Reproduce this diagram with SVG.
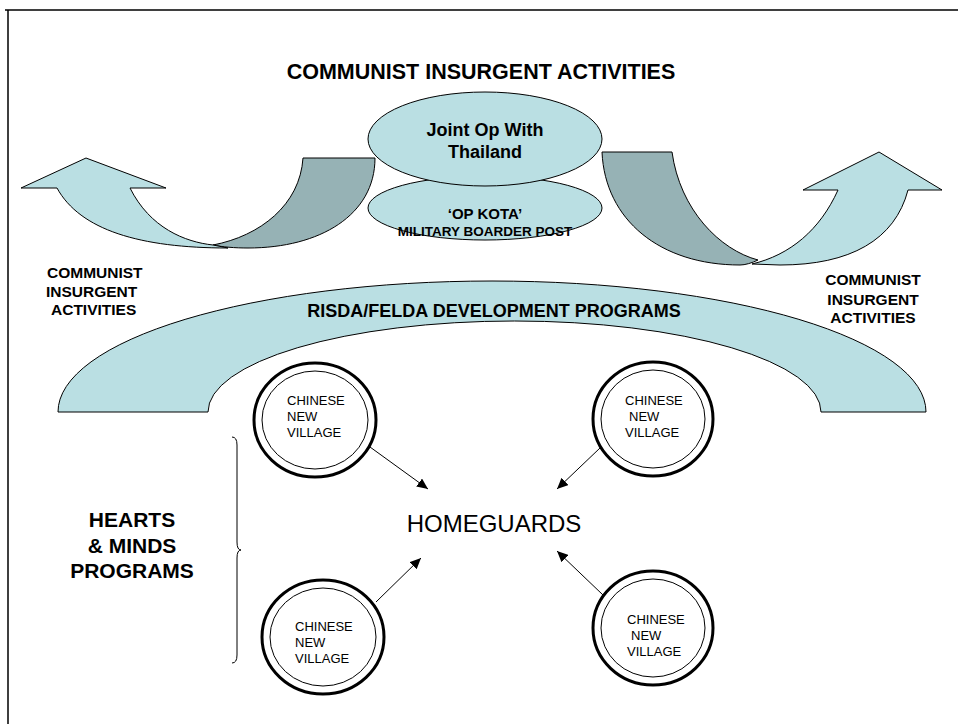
<svg xmlns="http://www.w3.org/2000/svg" width="958" height="724" viewBox="0 0 958 724">
<defs>
<style>
.lt{fill:#BADFE3;stroke:#000;stroke-width:1}
.dk{fill:#96B2B5;stroke:#000;stroke-width:1}
.b{font-family:"Liberation Sans",Arial,sans-serif;font-weight:bold;fill:#000}
.r{font-family:"Liberation Sans",Arial,sans-serif;fill:#000}
.ring{fill:#fff;stroke:#000;stroke-width:3}
.inner{fill:none;stroke:#000;stroke-width:1}
.conn{stroke:#000;stroke-width:1;fill:none;marker-end:url(#ah)}
</style>
<marker id="ah" markerUnits="userSpaceOnUse" markerWidth="12" markerHeight="10" refX="11" refY="5" orient="auto">
<path d="M0,0 L11,5 L0,10 Z" fill="#000"/>
</marker>
</defs>
<rect width="958" height="724" fill="#fff"/>
<path d="M5,10 H958 M8,10 V724" stroke="#000" stroke-width="1.5" fill="none"/>

<g id="title"><text class="b" x="481" y="79" font-size="21.5" text-anchor="middle">COMMUNIST INSURGENT ACTIVITIES</text></g>

<g id="left-arrow">
<path class="dk" d="M303,158 L375,158 C375,215 320,248 248,248 C235,248 222,247 213,245 C260,236 300,205 303,158 Z"/>
<path class="lt" d="M86,158 L166,188 L130,188 C150,228 185,242 213,245 L228,248 C140,248 80,230 57,188 L21,188 Z"/>
</g>
<g id="right-arrow">
<path class="dk" d="M602,152 L672,152 C680,210 720,250 758,260 C752,263 745,265 740,265 C660,265 605,220 602,152 Z"/>
<path class="lt" d="M879,152 L942,190 L908,190 C895,240 850,265 780,265 L752,264 C790,255 820,230 838,190 L803,190 Z"/>
</g>

<g id="joint-op">
<ellipse class="lt" cx="485" cy="208" rx="117" ry="32"/>
<text class="b" x="485" y="219" font-size="15" text-anchor="middle">‘OP KOTA’</text>
<text class="b" x="485" y="236" font-size="13.5" text-anchor="middle">MILITARY BOARDER POST</text>
</g>
<g id="joint-thailand">
<ellipse class="lt" cx="485" cy="139" rx="117" ry="47"/>
<text class="b" x="485" y="136" font-size="18" text-anchor="middle">Joint Op With</text>
<text class="b" x="485" y="158" font-size="18" text-anchor="middle">Thailand</text>
</g>

<g id="left-label">
<text class="b" font-size="15.5"><tspan x="47" y="278">COMMUNIST</tspan><tspan x="46" y="297">INSURGENT</tspan><tspan x="51" y="315">ACTIVITIES</tspan></text>
</g>
<g id="right-label">
<text class="b" font-size="15.5" text-anchor="middle"><tspan x="873" y="285">COMMUNIST</tspan><tspan x="873" y="305">INSURGENT</tspan><tspan x="873" y="323">ACTIVITIES</tspan></text>
</g>

<g id="risda">
<path class="lt" d="M58,412 A434,131 0 0 1 926,412 L821,412 A306.5,91 0 0 0 208,412 Z"/>
<text class="b" x="494" y="317" font-size="18" text-anchor="middle">RISDA/FELDA DEVELOPMENT PROGRAMS</text>
</g>

<g id="village-tl">
<ellipse class="ring" cx="315" cy="420" rx="61" ry="57"/>
<ellipse class="inner" cx="315" cy="420" rx="53" ry="49"/>
<text class="r" font-size="13"><tspan x="287" y="405">CHINESE</tspan><tspan x="287" y="421">NEW</tspan><tspan x="287" y="437">VILLAGE</tspan></text>
</g>
<g id="village-tr">
<ellipse class="ring" cx="653" cy="419" rx="60" ry="57"/>
<ellipse class="inner" cx="653" cy="419" rx="52" ry="49"/>
<text class="r" font-size="13"><tspan x="625" y="405">CHINESE</tspan><tspan x="629" y="421">NEW</tspan><tspan x="625" y="437">VILLAGE</tspan></text>
</g>
<g id="village-bl">
<ellipse class="ring" cx="323" cy="637" rx="61" ry="57"/>
<ellipse class="inner" cx="323" cy="637" rx="53" ry="49"/>
<text class="r" font-size="13"><tspan x="295" y="631">CHINESE</tspan><tspan x="295" y="647">NEW</tspan><tspan x="295" y="663">VILLAGE</tspan></text>
</g>
<g id="village-br">
<ellipse class="ring" cx="653" cy="628" rx="60" ry="57"/>
<ellipse class="inner" cx="653" cy="628" rx="52" ry="49"/>
<text class="r" font-size="13"><tspan x="627" y="624">CHINESE</tspan><tspan x="631" y="640">NEW</tspan><tspan x="627" y="656">VILLAGE</tspan></text>
</g>

<g id="homeguards"><text class="r" x="494" y="532" font-size="24" text-anchor="middle">HOMEGUARDS</text></g>

<g id="hearts">
<path d="M232,437 Q237,437 237,445 L237,542 Q237,550 241,550 Q237,550 237,558 L237,655 Q237,663 232,663" stroke="#000" stroke-width="1" fill="none"/>
<text class="b" font-size="21" text-anchor="middle"><tspan x="132" y="527">HEARTS</tspan><tspan x="132" y="553">&amp; MINDS</tspan><tspan x="132" y="578">PROGRAMS</tspan></text>
</g>

<g id="connectors">
<line class="conn" x1="370" y1="447" x2="428" y2="489"/>
<line class="conn" x1="600" y1="448" x2="557" y2="489"/>
<line class="conn" x1="376" y1="602" x2="421" y2="558"/>
<line class="conn" x1="603" y1="595" x2="557" y2="551"/>
</g>
</svg>
